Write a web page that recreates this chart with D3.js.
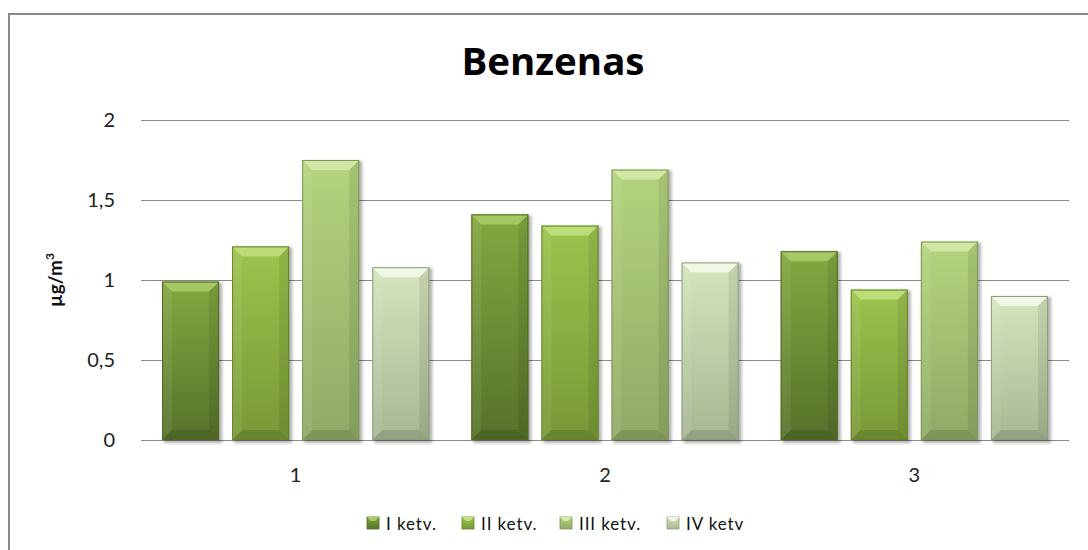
<!DOCTYPE html>
<html lang="lt">
<head>
<meta charset="utf-8">
<title>Benzenas</title>
<script src="https://d3js.org/d3.v7.min.js"></script>
<style>
  html, body { margin: 0; background: #fff; overflow: hidden; }
  svg { display: block; }
  svg text { font-family: Lato, "Open Sans", sans-serif; }
</style>
</head>
<body>
<div id="chart"></div>
<script>
// data
var categories = ["1", "2", "3"];
var seriesNames = ["I ketv.", "II ketv.", "III ketv.", "IV ketv"];
var valuesI   = [0.99, 1.41, 1.18];
var valuesII  = [1.21, 1.34, 0.94];
var valuesIII = [1.75, 1.69, 1.24];
var valuesIV  = [1.08, 1.11, 0.90];
var yTicks = [0, 0.5, 1, 1.5, 2];

var allValues = [valuesI, valuesII, valuesIII, valuesIV];

// colours per series: top, bottom, bevel highlight, edge
var palette = [
  {top: "#82A840", bot: "#56722A", bev: "#A9CB68", edge: "#4E6A22"},
  {top: "#9CC44E", bot: "#789836", bev: "#C1E07E", edge: "#66832C"},
  {top: "#B4D47E", bot: "#90AA66", bev: "#D3EAA9", edge: "#7D9758"},
  {top: "#D6E5BC", bot: "#A6B793", bev: "#F3F8E9", edge: "#8E9D7D"}
];

var width = 1088, height = 550;
var svg = d3.select("#chart").append("svg")
  .attr("width", width)
  .attr("height", height);

var defs = svg.append("defs");
palette.forEach(function(p, i) {
  var g = defs.append("linearGradient").attr("id", "grad" + i)
    .attr("x1", 0).attr("y1", 0).attr("x2", 0).attr("y2", 1);
  g.append("stop").attr("offset", "0%").attr("stop-color", p.top);
  g.append("stop").attr("offset", "100%").attr("stop-color", p.bot);
});
var f = defs.append("filter").attr("id", "shadow")
  .attr("x", "-20%").attr("y", "-20%").attr("width", "140%").attr("height", "140%");
f.append("feGaussianBlur").attr("stdDeviation", 1.8);

// chart frame: only top and left edges are in view
svg.append("path")
  .attr("d", "M9,560 L9,14 L1100,14")
  .attr("fill", "none")
  .attr("stroke", "#888").attr("stroke-width", 2);

var x0 = d3.scaleBand().domain(categories).range([141, 1069]);
var x1 = d3.scaleBand().domain(d3.range(seriesNames.length))
  .range([0, x0.bandwidth()])
  .paddingInner(0.186).paddingOuter(0.30);
var y = d3.scaleLinear().domain([0, 2]).range([440, 120]);

// gridlines
svg.append("g").selectAll("line")
  .data(yTicks).join("line")
  .attr("x1", 141).attr("x2", 1069)
  .attr("y1", d => y(d) + 0.5).attr("y2", d => y(d) + 0.5)
  .attr("stroke", "#8a8a8a").attr("stroke-width", 1);

// y tick labels
var fmt = d => String(d).replace(".", ",");
svg.append("g").selectAll("text")
  .data(yTicks).join("text")
  .attr("x", 115).attr("y", d => y(d) + 7)
  .attr("text-anchor", "end")
  .attr("font-size", 20).attr("fill", "#222")
  .text(fmt);

// y title
svg.append("text")
  .attr("transform", "translate(62,280) rotate(-90)")
  .attr("text-anchor", "middle")
  .attr("font-size", 19).attr("font-weight", "bold").attr("fill", "#111")
  .html('µg/m<tspan dy="-8" font-size="12">3</tspan>');

// x labels
svg.append("g").selectAll("text")
  .data(categories).join("text")
  .attr("x", d => x0(d) + x0.bandwidth() / 2)
  .attr("y", 482)
  .attr("text-anchor", "middle")
  .attr("font-size", 20).attr("fill", "#222")
  .text(d => d);

// title
svg.append("text")
  .attr("x", 553).attr("y", 75)
  .attr("text-anchor", "middle")
  .style("font-family", "'Open Sans', sans-serif")
  .attr("font-size", 37).attr("font-weight", "bold").attr("fill", "#000")
  .attr("textLength", 183).attr("lengthAdjust", "spacingAndGlyphs")
  .text("Benzenas");

// bars
var bars = [];
categories.forEach(function(c, ci) {
  allValues.forEach(function(vals, si) {
    bars.push({cat: c, s: si, v: vals[ci]});
  });
});

var bg = svg.append("g").selectAll("g")
  .data(bars).join("g")
  .attr("transform", d => "translate(" + (x0(d.cat) + x1(d.s)) + "," + y(d.v) + ")");

var bw = x1.bandwidth();
var b = 10;

bg.append("rect")
  .attr("x", 2).attr("y", 1)
  .attr("width", bw + 1).attr("height", d => y(0) - y(d.v) + 2)
  .attr("fill", "#000").attr("opacity", 0.3)
  .attr("filter", "url(#shadow)");

bg.append("rect")
  .attr("width", bw).attr("height", d => y(0) - y(d.v))
  .attr("fill", d => "url(#grad" + d.s + ")");

// top bevel
bg.append("path")
  .attr("d", "M0,0 L" + bw + ",0 L" + (bw - b) + "," + b + " L" + b + "," + b + " Z")
  .attr("fill", d => palette[d.s].bev).attr("opacity", 0.9);
// left bevel
bg.append("path")
  .attr("d", d => {
    var h = y(0) - y(d.v);
    return "M0,0 L" + b + "," + b + " L" + b + "," + (h - b) + " L0," + h + " Z";
  })
  .attr("fill", "#fff").attr("opacity", 0.07);
// right bevel
bg.append("path")
  .attr("d", d => {
    var h = y(0) - y(d.v);
    return "M" + bw + ",0 L" + (bw - b) + "," + b + " L" + (bw - b) + "," + (h - b) + " L" + bw + "," + h + " Z";
  })
  .attr("fill", "#000").attr("opacity", 0.08);
// bottom bevel
bg.append("path")
  .attr("d", d => {
    var h = y(0) - y(d.v);
    return "M0," + h + " L" + b + "," + (h - b) + " L" + (bw - b) + "," + (h - b) + " L" + bw + "," + h + " Z";
  })
  .attr("fill", "#000").attr("opacity", 0.12);

bg.append("rect")
  .attr("x", 0.5).attr("y", 0.5)
  .attr("width", bw - 1).attr("height", d => y(0) - y(d.v) - 1)
  .attr("fill", "none")
  .attr("stroke", d => palette[d.s].edge).attr("stroke-width", 1);

// legend
var legX = [367, 462, 560, 667];
var leg = svg.append("g").selectAll("g")
  .data(seriesNames).join("g")
  .attr("transform", (d, i) => "translate(" + legX[i] + ",517)");
leg.append("rect")
  .attr("width", 12).attr("height", 12)
  .attr("fill", (d, i) => "url(#grad" + i + ")")
  .attr("stroke", (d, i) => palette[i].edge).attr("stroke-width", 0.8);
leg.append("path")
  .attr("d", "M0,0 L12,0 L8,4 L4,4 Z")
  .attr("fill", (d, i) => palette[i].bev);
leg.append("text")
  .attr("x", 19).attr("y", 12.5)
  .attr("font-size", 17).attr("fill", "#111")
  .attr("letter-spacing", 0.9)
  .text(d => d);
</script>
</body>
</html>
